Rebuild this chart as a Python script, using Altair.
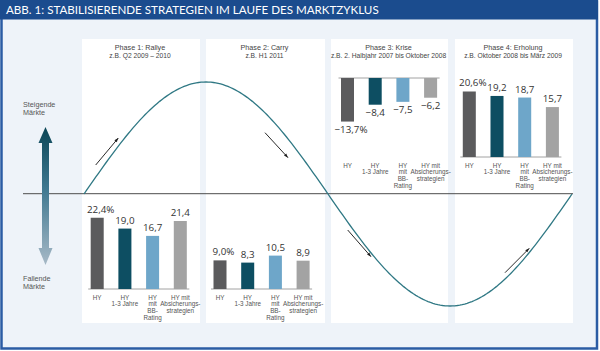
import math
import altair as alt
import pandas as pd

# ---------------- data ----------------
categories = ["HY", "HY 1-3 Jahre", "HY mit BB-Rating", "HY mit Absicherungsstrategien"]
cat_labels = ["HY", "HY\n1-3 Jahre", "HY\nmit\nBB-\nRating", "HY mit\nAbsicherungs-\nstrategien"]
bar_colors = ["#5b5b5d", "#0d4e62", "#6ea6c9", "#a3a3a3"]

phase_titles = ["Phase 1: Rallye", "Phase 2: Carry", "Phase 3: Krise", "Phase 4: Erholung"]
phase_periods = ["z.B. Q2 2009 – 2010", "z.B. H1 2011",
                 "z.B. 2. Halbjahr 2007 bis Oktober 2008", "z.B. Oktober 2008 bis März 2009"]
phase1 = [22.4, 19.0, 16.7, 21.4]
phase2 = [9.0, 8.3, 10.5, 8.9]
phase3 = [-13.7, -8.4, -7.5, -6.2]
phase4 = [20.6, 19.2, 18.7, 15.7]
phase_values = [phase1, phase2, phase3, phase4]

title_text = "Abb. 1: Stabilisierende Strategien im Laufe des Marktzyklus"
up_label = "Steigende\nMärkte"
down_label = "Fallende\nMärkte"

# ---------------- layout ----------------
W, H = 600, 351
panel_left = [82, 206, 331, 455]
panel_right = [200, 325, 448, 573]
panel_top, panel_bottom = 39, 323
first_center = [97.2, 220.0, 347.5, 469.3]
step = 27.7
baseline = [289, 289, 78, 157]
label_top = [294.5, 294.5, 162.5, 162.5]
PXU = 3.18  # pixels per percentage point

NARROW = "Liberation Sans Narrow, Arial Narrow, Liberation Sans, Arial"
NUMF = "Open Sans"

PX = alt.Scale(domain=[0, W], range=[0, W], nice=False, zero=False)
PY = alt.Scale(domain=[0, H], range=[0, H], nice=False, zero=False)


def X(f):
    return alt.X(f, type="quantitative", scale=PX, axis=None)


def Y(f):
    return alt.Y(f, type="quantitative", scale=PY, axis=None)


one = pd.DataFrame({"k": [0]})

# background + frame
bg = alt.Chart(pd.DataFrame({"x": [1.5], "x2": [597], "y": [1.5], "y2": [348.5]})).mark_rect(
    fill="#eef3f9", stroke="#2b5ca4", strokeWidth=2.5
).encode(x=X("x"), x2="x2", y=Y("y"), y2="y2")

title_bar = alt.Chart(pd.DataFrame({"x": [0], "x2": [598], "y": [0], "y2": [19.5]})).mark_rect(
    fill="#1b4c8e"
).encode(x=X("x"), x2="x2", y=Y("y"), y2="y2")

title = alt.Chart(pd.DataFrame({"t": [title_text.upper()], "x": [6], "y": [10.5]})).mark_text(
    align="left", baseline="middle", font="Lato", fontSize=11.6, color="#ffffff"
).encode(x=X("x"), y=Y("y"), text="t:N")

panels = alt.Chart(pd.DataFrame({"x": panel_left, "x2": panel_right,
                                 "y": [panel_top] * 4, "y2": [panel_bottom] * 4})).mark_rect(
    fill="#ffffff"
).encode(x=X("x"), x2="x2", y=Y("y"), y2="y2")

heads = pd.DataFrame({
    "x": [(a + b) / 2 - 1 for a, b in zip(panel_left, panel_right)],
    "t1": phase_titles, "t2": phase_periods,
})
head1 = alt.Chart(heads).mark_text(font=NARROW, fontSize=7.2, color="#444444", baseline="middle").encode(
    x=X("x"), y=alt.value(47.5), text="t1:N")
head2 = alt.Chart(heads).mark_text(font=NARROW, fontSize=6.7, color="#444444", baseline="middle").encode(
    x=X("x"), y=alt.value(56), text="t2:N")

axis_line = alt.Chart(pd.DataFrame({"x": [23], "x2": [573], "y": [193.7]})).mark_rule(
    color="#4d4d4d", strokeWidth=1
).encode(x=X("x"), x2="x2", y=Y("y"))

# market-cycle curve (schematic)
curve = alt.Chart(alt.sequence(0, 1.0001, 0.005, as_="t")).transform_calculate(
    x="84 + datum.t * 488", y="194 - 112 * sin(2 * PI * datum.t)"
).mark_line(color="#2f7884", strokeWidth=1.3).encode(x=X("x"), y=Y("y"), order="t:Q")

# small direction arrows
tails = [(95.7, 165.0), (265.0, 132.7), (347.7, 230.0), (505.0, 272.7)]
tips = [(118.3, 138.0), (288.0, 157.7), (371.0, 256.7), (529.3, 248.3)]
arr = pd.DataFrame({
    "x": [t[0] for t in tails], "y": [t[1] for t in tails],
    "x2": [t[0] for t in tips], "y2": [t[1] for t in tips],
    "ang": [math.degrees(math.atan2(b[0] - a[0], -(b[1] - a[1]))) for a, b in zip(tails, tips)],
})
arr_lines = alt.Chart(arr).mark_rule(color="#2a2a2a", strokeWidth=1).encode(
    x=X("x"), x2="x2", y=Y("y"), y2="y2")
arr_heads = alt.Chart(arr).mark_point(
    shape="M0,0L0.6,1.7L-0.6,1.7Z", size=25, filled=True, opacity=1, color="#1e1e1e"
).encode(x=X("x2"), y=Y("y2"), angle=alt.Angle("ang:Q", scale=None))

# big gradient double arrow
big_path = ("M0,-1L0.1014,-0.768L0.0507,-0.768L0.0507,0.754L0.1014,0.754L0,1"
            "L-0.1014,0.754L-0.0507,0.754L-0.0507,-0.768L-0.1014,-0.768Z")
big_arrow = alt.Chart(one).mark_point(
    shape=big_path, size=138 * 138, filled=True, opacity=1, strokeWidth=0,
    fill={"gradient": "linear", "x1": 0, "y1": 0, "x2": 0, "y2": 1,
          "stops": [{"offset": 0, "color": "#0a4556"},
                    {"offset": 0.45, "color": "#3f7890"},
                    {"offset": 1, "color": "#a7b9c7"}]}
).encode(x=alt.value(45.5), y=alt.value(196))

side = pd.DataFrame({"t": [up_label, down_label], "x": [23, 23], "y": [101, 275]})
side_text = alt.Chart(side).mark_text(
    align="left", baseline="top", lineBreak="\n", font=NARROW, fontSize=7.2, lineHeight=8,
    color="#555555"
).encode(x=X("x"), y=Y("y"), text="t:N")


def panel_chart(i, values):
    df = pd.DataFrame({"cat": categories, "lab": cat_labels, "v": values})
    c0 = first_center[i]
    xs = alt.Scale(domain=categories, range=[c0 - step / 2, c0 + 3 * step + step / 2],
                   paddingInner=0.53, paddingOuter=0.265)
    b = baseline[i]
    ys = alt.Scale(domain=[0, 10], range=[b, b - 10 * PXU], nice=False, zero=False)
    base = alt.Chart(df).transform_calculate(
        txt="replace(format(datum.v, '.1f'), '.', ',') + (datum.cat == 'HY' ? '%' : '')"
    )
    XC = alt.X("cat:N", scale=xs, axis=None)
    YV = alt.Y("v:Q", scale=ys, axis=None)
    bars = base.mark_bar().encode(
        x=XC, y=YV, y2=alt.datum(0),
        color=alt.Color("cat:N", scale=alt.Scale(domain=categories, range=bar_colors), legend=None),
    )
    neg = values[0] < 0
    tprops = dict(baseline="top" if neg else "bottom", dy=3 if neg else -3,
                  font=NUMF, fontSize=9.8, color="#333333")
    vals = base.transform_filter("datum.cat != 'HY'").mark_text(**tprops).encode(x=XC, y=YV, text="txt:N")
    vals_hy = base.transform_filter("datum.cat == 'HY'").mark_text(dx=3.5, **tprops).encode(
        x=XC, y=YV, text="txt:N")
    labs = base.mark_text(baseline="top", lineBreak="\n", font=NARROW, fontSize=6.3, lineHeight=6.9,
                          color="#555555").encode(x=XC, y=alt.value(label_top[i]), text="lab:N")
    return alt.layer(bars, vals, vals_hy, labs)


bar_layers = [panel_chart(i, v) for i, v in enumerate(phase_values)]

# baseline rules under bars of each panel
bl = pd.DataFrame({
    "x": [c - 9 for c in first_center], "x2": [c + 3 * step + 9 for c in first_center],
    "y": baseline,
})
base_rules = alt.Chart(bl).mark_rule(color="#8a8a8a", strokeWidth=0.8).encode(
    x=X("x"), x2="x2", y=Y("y"))

chart = alt.layer(
    bg, title_bar, title, panels, head1, head2, axis_line, base_rules, curve,
    arr_lines, arr_heads, big_arrow, side_text, *bar_layers
).resolve_scale(x="independent", y="independent").properties(
    width=W, height=H, padding=0, autosize="none", background="#ffffff"
).configure_view(stroke=None)

chart.save("out.html", embed_options={"renderer": "svg", "actions": False})
